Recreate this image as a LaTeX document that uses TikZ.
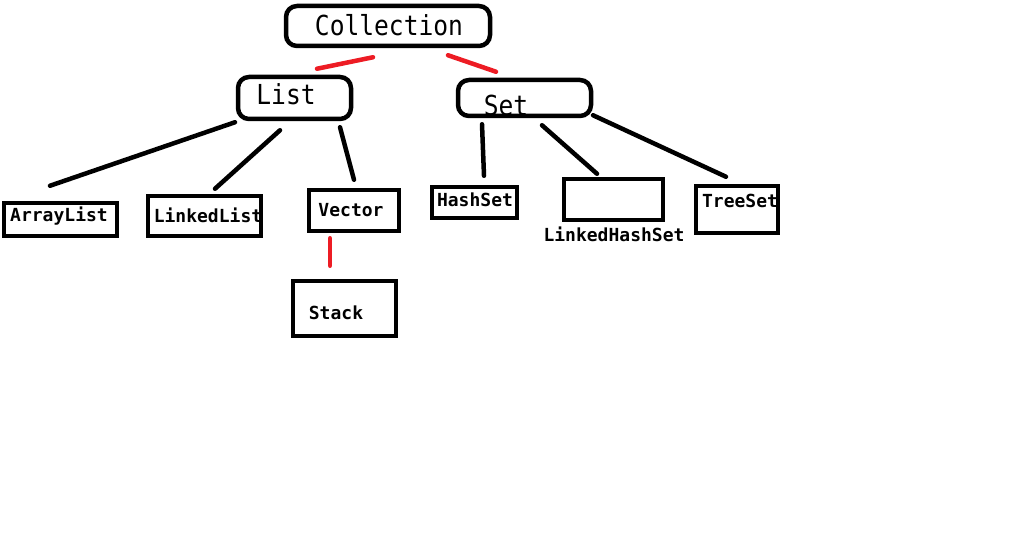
\documentclass[tikz,border=0pt]{standalone}
\usepackage{fontspec}
\setmonofont{DejaVu Sans Mono}
\usepackage{tikz}
\usetikzlibrary{positioning,calc}
\definecolor{paintred}{RGB}{237,28,36}

\begin{document}
\begin{tikzpicture}[x=1pt,y=-1pt,
    rbox/.style={draw, line width=4.5pt, rounded corners=11pt, inner sep=0},
    sbox/.style={draw, line width=4.5pt, inner sep=0},
    bigtxt/.style={anchor=base, inner sep=0, font=\ttfamily\fontsize{24.6}{28}\selectfont},
    smalltxt/.style={anchor=base, inner sep=0, font=\ttfamily\bfseries\fontsize{18}{20}\selectfont},
    blink/.style={line width=4.5pt, line cap=round},
    rlink/.style={line width=4.5pt, line cap=round, draw=paintred}]
    \useasboundingbox (0,0) rectangle (1020,548);

    % top levels
    \node[rbox, minimum width=204pt, minimum height=40pt] (collection) at (388,26) {};
    \node[rbox, minimum width=113pt, minimum height=42pt] (list) at (294.5,98) {};
    \node[rbox, minimum width=133pt, minimum height=36pt] (set) at (524.5,98) {};
    \node[bigtxt] (collection-t) at (389,36) {\scalebox{1}[1.12]{Collection}};
    \node[bigtxt] (list-t) at (286,105) {\scalebox{1}[1.12]{List}};
    \node[bigtxt] (set-t) at (506,116) {\scalebox{1}[1.12]{Set}};

    % list side
    \node[sbox, minimum width=113pt, minimum height=33pt] (arraylist) at (60.5,219.5) {};
    \node[sbox, minimum width=113pt, minimum height=40pt] (linkedlist) at (204.5,216) {};
    \node[sbox, minimum width=90pt, minimum height=41pt] (vector) at (354,210.5) {};
    \node[sbox, minimum width=103pt, minimum height=55pt] (stack) at (344.5,308.5) {};
    \node[smalltxt] (arraylist-t) at (59,221.5) {ArrayList};
    \node[smalltxt] (linkedlist-t) at (208,222.5) {LinkedList};
    \node[smalltxt] (vector-t) at (351,216.5) {Vector};
    \node[smalltxt] (stack-t) at (336,319.5) {Stack};

    % set side
    \node[sbox, minimum width=85pt, minimum height=31pt] (hashset) at (474.5,202.5) {};
    \node[sbox, minimum width=99pt, minimum height=41pt] (linkedhashset) at (613.5,199.5) {};
    \node[sbox, minimum width=82pt, minimum height=47pt] (treeset) at (737,209.5) {};
    \node[smalltxt] (hashset-t) at (475,206.5) {HashSet};
    \node[smalltxt] (linkedhashset-t) at (614,241.5) {LinkedHashSet};
    \node[smalltxt] (treeset-t) at (740,207.5) {TreeSet};

    % links
    \draw[rlink] ([shift={(-15,9)}]collection.south) -- ([shift={(22.5,-6)}]list.north);
    \draw[rlink] ([shift={(60,7)}]collection.south) -- ([shift={(-28.5,-6)}]set.north);
    \draw[blink] ([shift={(-59.5,1)}]list.south) -- ([shift={(-10.5,-15)}]arraylist.north);
    \draw[blink] ([shift={(-14.5,9)}]list.south) -- ([shift={(10.5,-5)}]linkedlist.north);
    \draw[blink] ([shift={(45.5,6)}]list.south) -- ([shift={(0,-8)}]vector.north);
    \draw[rlink] ([shift={(-24,5)}]vector.south) -- ([shift={(-14.5,-13)}]stack.north);
    \draw[blink] ([shift={(-42.5,6)}]set.south) -- ([shift={(9.5,-9)}]hashset.north);
    \draw[blink] ([shift={(17.5,7)}]set.south) -- ([shift={(-16.5,-3)}]linkedhashset.north);
    \draw[blink] ([shift={(68.5,-3)}]set.south) -- ([shift={(-11,-7)}]treeset.north);
\end{tikzpicture}
\end{document}
